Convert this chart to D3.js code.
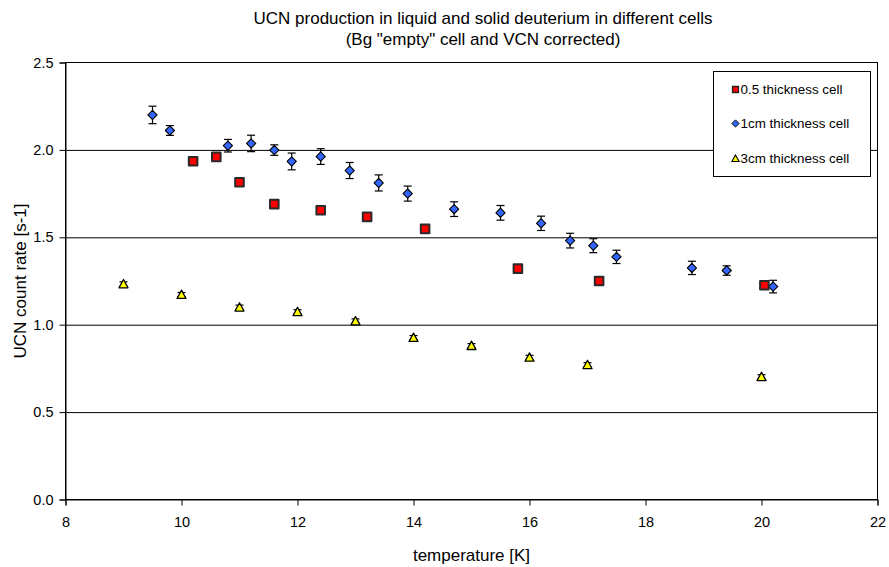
<!DOCTYPE html>
<html>
<head>
<meta charset="utf-8">
<script src="https://cdn.jsdelivr.net/npm/d3@7"></script>
<style>
  html, body { margin: 0; padding: 0; background: #fff; }
  svg { display: block; font-family: "Liberation Sans", Arial, sans-serif; }
</style>
</head>
<body>
<svg id="chart" width="889" height="567"></svg>
<script>
// 0.5 thickness cell
const tempHalf = [10.2, 10.6, 11.0, 11.6, 12.4, 13.2, 14.2, 15.8, 17.2, 20.05];
const rateHalf = [1.935, 1.960, 1.815, 1.690, 1.655, 1.617, 1.548, 1.321, 1.250, 1.226];
const errHalf  = [0.02, 0.02, 0.02, 0.02, 0.02, 0.02, 0.02, 0.02, 0.02, 0.02];

// 1cm thickness cell
const temp1cm = [9.5, 9.8, 10.8, 11.2, 11.6, 11.9, 12.4, 12.9, 13.4, 13.9, 14.7, 15.5, 16.2, 16.7, 17.1, 17.5, 18.8, 19.4, 20.2];
const rate1cm = [2.200, 2.111, 2.024, 2.037, 1.999, 1.934, 1.962, 1.882, 1.811, 1.750, 1.661, 1.640, 1.580, 1.481, 1.452, 1.388, 1.325, 1.310, 1.218];
const err1cm  = [0.050, 0.028, 0.036, 0.047, 0.030, 0.048, 0.045, 0.046, 0.046, 0.043, 0.042, 0.042, 0.041, 0.042, 0.040, 0.038, 0.038, 0.027, 0.036];

// 3cm thickness cell
const temp3cm = [9, 10, 11, 12, 13, 14, 15, 16, 17, 20];
const rate3cm = [1.233, 1.172, 1.100, 1.074, 1.021, 0.926, 0.880, 0.813, 0.771, 0.702];
const err3cm  = [0.012, 0.012, 0.012, 0.012, 0.012, 0.012, 0.012, 0.012, 0.012, 0.012];

const xTicks = [8, 10, 12, 14, 16, 18, 20, 22];
const yTicks = [0.0, 0.5, 1.0, 1.5, 2.0, 2.5];
const gridValues = [0.5, 1.0, 1.5, 2.0];

const seriesNames = ["0.5 thickness cell", "1cm thickness cell", "3cm thickness cell"];
const titleLines = ["UCN production in liquid and solid deuterium in different cells",
                    "(Bg \"empty\" cell and VCN corrected)"];
const xLabel = "temperature [K]";
const yLabel = "UCN count rate [s-1]";

const svg = d3.select("#chart");
const plotL = 65.5, plotR = 877.5, plotT = 62.5, plotB = 499.5;

const x = d3.scaleLinear().domain([8, 22]).range([plotL, plotR]);
const y = d3.scaleLinear().domain([0, 2.5]).range([plotB, plotT]);

// horizontal gridlines
svg.append("g")
  .attr("transform", `translate(${plotL},0)`)
  .call(d3.axisLeft(y).tickValues(gridValues).tickSize(-(plotR - plotL)).tickFormat(""))
  .call(g => g.select(".domain").remove())
  .call(g => g.selectAll("line").attr("stroke", "#000").attr("stroke-width", 1));

// plot frame
svg.append("rect")
  .attr("x", plotL).attr("y", plotT)
  .attr("width", plotR - plotL).attr("height", plotB - plotT)
  .attr("fill", "none").attr("stroke", "#000").attr("stroke-width", 1);

// y axis
svg.append("g")
  .attr("transform", `translate(${plotL},0)`)
  .call(d3.axisLeft(y).tickValues(yTicks).tickSize(6).tickPadding(6).tickFormat(d3.format(".1f")))
  .call(g => g.select(".domain").attr("stroke", "#000"))
  .call(g => g.selectAll("line").attr("stroke", "#000"))
  .call(g => g.selectAll("text").attr("font-size", 14.5).attr("fill", "#000")
      .attr("font-family", "Liberation Sans, Arial, sans-serif"));

// x axis
svg.append("g")
  .attr("transform", `translate(0,${plotB})`)
  .call(d3.axisBottom(x).tickValues(xTicks).tickSize(6).tickPadding(11).tickFormat(d3.format("d")))
  .call(g => g.select(".domain").attr("stroke", "#000"))
  .call(g => g.selectAll("line").attr("stroke", "#000"))
  .call(g => g.selectAll("text").attr("font-size", 14.5).attr("fill", "#000")
      .attr("font-family", "Liberation Sans, Arial, sans-serif"));

// marker shapes
const shapes = {
  square:   s => `M${-s},${-s}H${s}V${s}H${-s}Z`,
  diamond:  s => `M0,${-s}L${s},0L0,${s}L${-s},0Z`,
  triangle: s => `M0,${-s}L${s},${s * 0.85}L${-s},${s * 0.85}Z`
};

function drawSeries(temps, rates, errs, shape, size, fill, stroke, sw, capHalf) {
  const data = temps.map((t, i) => ({ t, v: rates[i], e: errs[i] }));
  const g = svg.append("g");
  const eb = g.selectAll("g.err").data(data).join("g").attr("class", "err")
    .attr("stroke", "#000").attr("stroke-width", 1.2);
  eb.append("line")
    .attr("x1", d => x(d.t)).attr("x2", d => x(d.t))
    .attr("y1", d => y(d.v + d.e)).attr("y2", d => y(d.v - d.e));
  eb.append("line")
    .attr("x1", d => x(d.t) - capHalf).attr("x2", d => x(d.t) + capHalf)
    .attr("y1", d => y(d.v + d.e)).attr("y2", d => y(d.v + d.e));
  eb.append("line")
    .attr("x1", d => x(d.t) - capHalf).attr("x2", d => x(d.t) + capHalf)
    .attr("y1", d => y(d.v - d.e)).attr("y2", d => y(d.v - d.e));
  g.selectAll("path.mk").data(data).join("path").attr("class", "mk")
    .attr("transform", d => `translate(${x(d.t)},${y(d.v)})`)
    .attr("d", shapes[shape](size))
    .attr("fill", fill).attr("stroke", stroke).attr("stroke-width", sw)
    .attr("stroke-linejoin", "round");
}

drawSeries(temp3cm, rate3cm, err3cm, "triangle", 4.5, "#FFFF00", "#000", 1.3, 4);
drawSeries(temp1cm, rate1cm, err1cm, "diamond", 4.6, "#3366FF", "#000", 1.1, 4);
drawSeries(tempHalf, rateHalf, errHalf, "square", 4.3, "#FF0000", "#2a2a2a", 2, 4);

// legend
const lg = svg.append("g");
lg.append("rect").attr("x", 713.5).attr("y", 71.5).attr("width", 157).attr("height", 105)
  .attr("fill", "#fff").attr("stroke", "#000").attr("stroke-width", 1);
const legendItems = [
  { name: seriesNames[0], shape: "square", size: 3, fill: "#FF0000", stroke: "#222", sw: 1.3, cy: 89.5 },
  { name: seriesNames[1], shape: "diamond", size: 3.6, fill: "#3366FF", stroke: "#000", sw: 1, cy: 123.5 },
  { name: seriesNames[2], shape: "triangle", size: 3.6, fill: "#FFFF00", stroke: "#000", sw: 1.1, cy: 158.5 }
];
legendItems.forEach(it => {
  lg.append("path").attr("transform", `translate(735.5,${it.cy})`)
    .attr("d", shapes[it.shape](it.size))
    .attr("fill", it.fill).attr("stroke", it.stroke).attr("stroke-width", it.sw);
  lg.append("text").attr("x", 740.5).attr("y", it.cy + 4.8)
    .attr("font-size", 13.4).attr("fill", "#000").text(it.name);
});

// titles
svg.append("text").attr("x", 483).attr("y", 24).attr("text-anchor", "middle")
  .attr("font-size", 17).attr("fill", "#000").text(titleLines[0]);
svg.append("text").attr("x", 483).attr("y", 45).attr("text-anchor", "middle")
  .attr("font-size", 17).attr("fill", "#000").text(titleLines[1]);

svg.append("text").attr("x", (plotL + plotR) / 2).attr("y", 561).attr("text-anchor", "middle")
  .attr("font-size", 17).attr("fill", "#000").text(xLabel);

svg.append("text").attr("transform", `translate(26,${(plotT + plotB) / 2}) rotate(-90)`)
  .attr("text-anchor", "middle").attr("font-size", 17).attr("fill", "#000").text(yLabel);
</script>
</body>
</html>
